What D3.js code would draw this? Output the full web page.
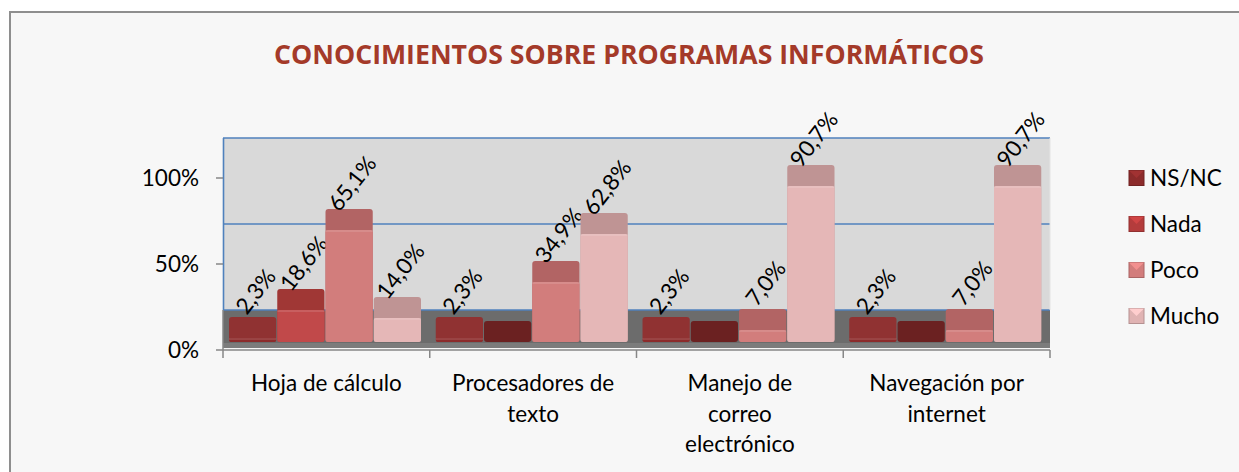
<!DOCTYPE html>
<html><head><meta charset="utf-8">
<script src="https://cdn.jsdelivr.net/npm/d3@7/dist/d3.min.js"></script>
<style>html,body{margin:0;padding:0;background:#fff;}svg{display:block;}</style>
</head><body>
<script>
const categories = [["Hoja de cálculo"], ["Procesadores de","texto"], ["Manejo de","correo","electrónico"], ["Navegación por","internet"]];
const series = ["NS/NC", "Nada", "Poco", "Mucho"];
const nsnc  = [2.3, 2.3, 2.3, 2.3];
const nada  = [18.6, 0, 0, 0];
const poco  = [65.1, 34.9, 7.0, 7.0];
const mucho = [14.0, 62.8, 90.7, 90.7];
const yTicks = [0, 50, 100];
const title = "CONOCIMIENTOS SOBRE PROGRAMAS INFORMÁTICOS";

const values = [nsnc, nada, poco, mucho];
const frontColors = ["#8c2b2b", "#c1494a", "#d27d7c", "#e5b7b7"];
const topColors   = ["#903232", "#a03735", "#b26464", "#bf9494"];
const zeroColor = "#6b2121";
const legendColors = ["#8c2b2b", "#b43c3c", "#d27d7c", "#e0b3b3"];

const W = 1239, H = 472;
const svg = d3.select("body").append("svg").attr("width", W).attr("height", H);
const FONT = "Lato, 'Open Sans', sans-serif";
const FS = 22.5;

svg.append("rect").attr("x",0).attr("y",0).attr("width",W).attr("height",H).attr("fill","#fff");
svg.append("rect").attr("x",10).attr("y",12).attr("width",W+20).attr("height",H+20)
  .attr("fill","#f7f7f7").attr("stroke","#8e8e8e").attr("stroke-width",2);

svg.append("text").attr("x",629).attr("y",64).attr("text-anchor","middle")
  .attr("font-family","'Liberation Sans Narrow', 'Open Sans', sans-serif").attr("font-weight","bold").attr("font-size",26)
  .attr("fill","#a43a29").attr("textLength",710).attr("lengthAdjust","spacingAndGlyphs").text(title);

const x0 = 223, x1 = 1050;
const y = d3.scaleLinear().domain([0,100]).range([350,178]);
const wallOff = 40, frontOff = 8, depth = 21;
const xBand = d3.scaleBand().domain(d3.range(categories.length)).range([x0,x1]);
const xSer = d3.scaleBand().domain(series).range([6, 199]);

// back wall
svg.append("rect").attr("x",x0).attr("y",y(100)-wallOff).attr("width",x1-x0).attr("height",y(0)-y(100))
  .attr("fill","#d9d9d9");
// floor
svg.append("rect").attr("x",x0).attr("y",y(0)-wallOff).attr("width",x1-x0).attr("height",wallOff-2)
  .attr("fill","#6c6c6c");
svg.append("rect").attr("x",x0).attr("y",y(0)-7).attr("width",x1-x0).attr("height",5)
  .attr("fill","#7c7c7c");
// gridlines on wall
svg.selectAll("line.grid").data(yTicks).join("line")
  .attr("x1",x0).attr("x2",x1).attr("y1",d=>y(d)-wallOff).attr("y2",d=>y(d)-wallOff)
  .attr("stroke","#4f81bd").attr("stroke-width",1.6);
svg.append("line").attr("x1",x0+0.5).attr("x2",x0+0.5).attr("y1",y(100)-wallOff).attr("y2",y(0)-wallOff)
  .attr("stroke","#4f81bd").attr("stroke-width",1.6);
svg.append("line").attr("x1",x1).attr("x2",x1).attr("y1",y(100)-wallOff).attr("y2",y(0)-wallOff)
  .attr("stroke","#e4e4e4").attr("stroke-width",1);

// axes
const ax = "#878787";
svg.append("line").attr("x1",x0).attr("x2",x0).attr("y1",y(0)-wallOff).attr("y2",y(0)).attr("stroke",ax).attr("stroke-width",1.5);
svg.append("line").attr("x1",x0).attr("x2",x1).attr("y1",y(0)).attr("y2",y(0)).attr("stroke",ax).attr("stroke-width",1.5);
svg.selectAll("line.ytick").data(yTicks).join("line")
  .attr("x1",x0-7).attr("x2",x0).attr("y1",d=>y(d)).attr("y2",d=>y(d)).attr("stroke",ax).attr("stroke-width",1.5);
svg.selectAll("text.ytl").data(yTicks).join("text")
  .attr("x",199).attr("y",d=>y(d)+8).attr("text-anchor","end")
  .attr("font-family",FONT).attr("font-size",FS).attr("fill","#000").text(d=>d+"%");
const bounds = d3.range(categories.length+1).map(i => i<categories.length ? xBand(i) : x1);
svg.selectAll("line.xtick").data(bounds).join("line")
  .attr("x1",d=>d).attr("x2",d=>d).attr("y1",y(0)).attr("y2",y(0)+8).attr("stroke",ax).attr("stroke-width",1.5);

// category labels
categories.forEach((lines,i)=>{
  const t = svg.append("text").attr("text-anchor","middle").attr("font-family",FONT).attr("font-size",FS).attr("fill","#000");
  lines.forEach((l,j)=>{
    t.append("tspan").attr("x",xBand(i)+xBand.bandwidth()/2).attr("y",391+j*30.5).text(l);
  });
});

// bars
const bw = xSer.bandwidth();
const base = y(0)-frontOff;
series.forEach((s,si)=>{
  values[si].forEach((v,ci)=>{
    const bx = xBand(ci)+xSer(s);
    const top = y(v)-frontOff;
    const g = svg.append("g");
    if (v > 0) {
      g.append("rect").attr("x",bx).attr("y",top-depth).attr("width",bw-1).attr("height",base-top+depth)
        .attr("rx",3).attr("fill",topColors[si]);
      g.append("rect").attr("x",bx).attr("y",top).attr("width",bw-1).attr("height",base-top)
        .attr("rx",2).attr("fill",frontColors[si]);
      g.append("rect").attr("x",bx).attr("y",top).attr("width",bw-1).attr("height",Math.min(2,base-top))
        .attr("fill","#ffffff").attr("opacity",0.12);
      g.append("text").attr("transform",`translate(${bx+bw/2+2},${top-depth-26}) rotate(-52)`)
        .attr("text-anchor","middle").attr("dominant-baseline","central")
        .attr("font-family",FONT).attr("font-size",FS).attr("fill","#000")
        .text(v.toFixed(1).replace(".",",")+"%");
    } else {
      g.append("rect").attr("x",bx).attr("y",base-depth).attr("width",bw-1).attr("height",depth)
        .attr("rx",3).attr("fill",zeroColor);
    }
  });
});

// legend
const lg = svg.append("g");
series.forEach((s,i)=>{
  const cy = 178 + i*46;
  const sx = 1129, sz = 15;
  lg.append("rect").attr("x",sx).attr("y",cy-sz/2).attr("width",sz).attr("height",sz)
    .attr("fill",legendColors[i]).attr("stroke",d3.color(legendColors[i]).darker(0.6)).attr("stroke-width",1);
  lg.append("path").attr("d",`M${sx},${cy-sz/2} L${sx+sz/2},${cy} L${sx+sz},${cy-sz/2} Z`)
    .attr("fill",d3.color(legendColors[i]).brighter(0.4));
  lg.append("text").attr("x",1150).attr("y",cy+8).attr("font-family",FONT).attr("font-size",FS)
    .attr("fill","#000").text(s);
});
</script>
</body></html>
